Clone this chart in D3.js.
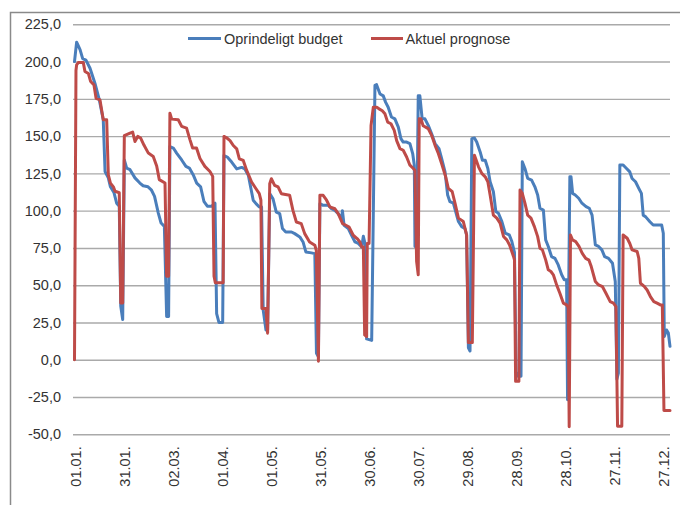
<!DOCTYPE html>
<html>
<head>
<meta charset="utf-8">
<script src="https://cdn.jsdelivr.net/npm/d3@7"></script>
<style>
  html, body { margin: 0; padding: 0; background: #fff; }
  svg { display: block; }
  text { font-family: "Liberation Sans", Arial, sans-serif; fill: #333; }
</style>
</head>
<body>
<svg id="chart" width="680" height="505"></svg>
<script>
// ---- Data ----
const seriesNames = ["Oprindeligt budget", "Aktuel prognose"];
const seriesColors = ["#4a7ebb", "#be4b48"];
const xTickDays = [0, 30, 60, 90, 120, 150, 180, 210, 240, 270, 300, 330, 360];
const xTickLabels = ["01.01.", "31.01.", "02.03.", "01.04.", "01.05.", "31.05.", "30.06.", "30.07.", "29.08.", "28.09.", "28.10.", "27.11.", "27.12."];
const yTickValues = [-50, -25, 0, 25, 50, 75, 100, 125, 150, 175, 200, 225];

// [day of year, value]
const budgetPoints = [
  [0,200],[1.3,213],[3.4,208],[5,202],[7,201],[9.5,195.5],[12.5,185.5],[15.2,174.3],[17.6,161],[18.7,126.3],
  [20.7,122],[22,116],[24.2,112],[25.8,105],[27.4,103],[28.3,36],[29.5,27],[30.5,134],[31.9,128.6],[34,127.5],
  [37,122],[40,118.5],[42,116.7],[45,116],[47,114],[49,109.6],[51.3,98.4],[53,91.7],[55,89.5],[56.4,29],
  [57.6,29],[58.4,143],[60.5,142],[62.5,138.6],[65.6,134],[68.2,129.7],[70.3,128.6],[72.7,124],[74.8,118.5],[77.2,116],
  [79.2,106.3],[81.3,103],[84,103],[86,105],[87,31],[88.4,25],[90.7,25],[91.5,137],[93.5,136],[96.2,132.6],
  [99.3,128],[102.3,129],[104.3,128],[106.4,123.7],[107.8,115.9],[109.4,107],[111.1,104.7],[113.1,102.5],[114.5,102.5],[115.5,33.3],
  [117.2,20],[118.2,20],[119.5,111.4],[121.5,108],[123.5,99],[125.6,98],[127.3,88],[129.3,85.7],[132.8,85.7],[134.8,84.6],
  [137.9,82.4],[139.9,79],[141.6,72.3],[145,71.7],[147.1,71.2],[148.1,4.3],[149.3,2],[150.2,104.7],[152.2,103.6],[155.3,103.6],
  [157.3,101.3],[159.4,100.2],[161.4,98],[163.5,94.6],[164,100],[165,90.2],[167.6,88],[169.6,83.5],[171.7,79],[173.7,78],
  [175.8,75.7],[176.8,82.8],[178,77],[178.8,14],[181.9,13],[183.9,184],[184.9,184.5],[187,178.3],[189,177],[190.4,172.8],
  [192,169.4],[194,162.8],[196.1,161.6],[198.2,156],[199.8,148.3],[201.2,146],[203.3,146],[205.3,145],[207,138.3],[208,130.5],
  [208.4,76],[209.4,76],[210.4,177],[211.4,177],[212.8,161.6],[214.5,161.6],[216.6,157],[218.6,151.6],[220.7,145],[223.1,141.6],
  [224.7,135],[226.8,126],[228.4,110.5],[229.8,106],[231.9,105],[233.9,97],[235,92.7],[237,89.3],[239,88],[240,83.8],
  [241.1,8],[242.1,5.9],[243.2,148.3],[244.8,148.7],[246.2,146],[248.3,139.4],[249.7,133.8],[251.4,133.8],[253,128.3],[254.4,119.4],
  [256.4,112.7],[257.9,99.4],[259.5,98.3],[261.6,92.7],[263.6,85],[266.1,83.8],[267.7,79.3],[269.3,72],[270.3,-8],[271.5,-11],
  [273.3,-11],[274.1,132.8],[275.7,128.3],[277.4,121.6],[279.8,120.5],[281.8,116],[283.5,110.5],[284.9,101.6],[287,100.4],[288.4,80.4],
  [290,76],[292,69.2],[294.1,68],[296.1,63.6],[298.2,57],[299.8,53.6],[301.2,53.6],[301.8,-26.8],[303.2,122.8],[303.9,122.8],
  [304.9,111.6],[306.5,110.5],[308.6,108.3],[310.6,105],[313.1,102.7],[315.1,101.6],[316.8,97],[318.8,77],[320.8,76],[322.8,73.7],
  [324.5,69.2],[326.9,68],[329.3,64.7],[331,52.5],[332,-13],[332.9,-9],[333.8,130.6],[335.8,130.6],[337.9,128.3],[339.9,126],
  [341.3,121.6],[343.4,119.4],[345.4,115],[347,111.6],[348.1,97],[349.5,96],[352.2,92.6],[354.2,90.4],[359.4,90.4],[360.4,84.8],
  [361,15.6],[362.4,20],[363.5,17.9],[364.5,9]
];

const prognosePoints = [
  [0,0],[0.9,194],[1.3,197.8],[2.3,199.3],[5.4,199.3],[6.4,193.3],[8.5,192],[9.9,186.6],[11.9,184.4],[13.2,175.4],
  [15.6,174.3],[17.6,161],[19.7,161],[20.7,124],[22,118.5],[23.8,116],[24.8,113],[27.4,112],[28.3,38],[29.5,38],
  [30.5,150.3],[34,152],[35.6,152.7],[37,146.4],[38.7,149.8],[40.5,148.7],[42.5,144],[45.2,138.6],[48.2,136.4],[50.3,130],
  [51.9,120.8],[55.4,118.5],[56.4,56],[57.6,56],[58.4,165.4],[59.5,161.4],[63.5,161],[65.6,156.5],[68.6,155.4],[70.7,147.5],
  [72.3,142],[74.7,142],[76.8,135],[79.8,129.7],[82.9,126.3],[84.6,123],[85.4,56],[86.2,51.6],[91,51.6],[91.5,149.8],
  [93.1,148.9],[95.2,147],[97.2,143.7],[99.3,141.5],[100.9,134.8],[103.3,133.7],[105.4,127],[108.4,119.2],[111.1,114.7],[113.1,111.4],
  [114.1,107],[114.7,34.4],[117.2,34.4],[118.2,17.8],[119.5,118],[120.5,121.4],[122.5,117],[124.6,115.9],[126.6,111.4],[131.7,110.3],
  [133.7,100.2],[135.8,92.4],[138.8,91.3],[140.9,84.6],[143.9,79],[147.1,76.8],[148,73.4],[149.3,-1],[150.2,110.3],[152.2,110.3],
  [154.3,107],[156.3,102.5],[159.4,101.3],[161.4,98],[164.1,91.3],[166.1,90.2],[168.1,89],[170.6,83.5],[173,81.3],[174.7,79],
  [175.8,75.7],[176.8,75.7],[177.6,16.7],[178.8,15.6],[179.2,78],[180.3,78],[181.5,157],[182.9,169.4],[185,169.4],[186.4,168.3],
  [188.4,167],[190,165],[191.7,159.4],[193.7,158.3],[195.7,153.9],[197.2,147],[199.2,141.6],[201.2,140.5],[203.3,136],[205.3,130.5],
  [207.4,128.3],[208.4,127],[209.4,66],[210.4,57],[211,161.6],[212,161.6],[213.4,157],[216.5,155],[218.6,150.5],[220.7,143.8],
  [222.7,138.3],[224.7,131.6],[227.2,122.7],[228.8,115],[231.2,112.7],[232.9,105],[235,95],[238,92.7],[240,83.8],[241.1,11.5],
  [243.5,11.5],[244.8,137.2],[247.3,129.4],[249.3,125],[251.4,122.7],[253,119.4],[254.4,110.5],[256.4,97],[258.5,95],[260.5,91.6],
  [262.6,82.7],[264.6,80.4],[266.3,77],[268.7,69.3],[269.3,67],[270,-14.5],[272,-14.5],[272.7,113.8],[274.1,111.6],[275.7,105],
  [277.4,97],[279.4,95],[281.5,89.3],[283.5,82.6],[284.9,74.8],[286.4,73.7],[288.4,67],[290,60.3],[291.6,59.2],[293.1,57],
  [295.1,50.2],[297.1,44.6],[299.2,38],[301.2,36.8],[302.2,35],[302.8,-45],[303.6,83.7],[304.8,80.4],[306.8,79.2],[308.8,76],
  [310.8,71.4],[312.9,68],[314.9,66.8],[316.3,62.5],[318.8,52.5],[320.8,50.2],[323.2,49],[325.3,44.6],[327.9,39],[329.9,38],
  [331.4,35.7],[332.4,-44.6],[335,-44.6],[335.8,83.7],[338.3,81.5],[339.9,78],[341.3,73.7],[344.4,72.6],[345.4,68],[346.4,51.3],
  [348.9,49],[350.5,46.8],[352.5,42.4],[354.6,39],[356.6,38],[358.6,36.8],[359.8,36.8],[360.8,-34],[364.5,-34]
];

// ---- Layout ----
const svg = d3.select("#chart");
const W = 680, H = 505;
const plot = { left: 73, right: 670, top: 24.3, bottom: 434.3 };

const x = d3.scaleLinear().domain([0, 364.5]).range([74.5, 670]);
const y = d3.scaleLinear().domain([-50, 225]).range([plot.bottom, plot.top]);

const loc = d3.formatLocale({ decimal: ",", thousands: ".", grouping: [3], currency: ["", ""], minus: "-" });
const fmt = loc.format(".1f");

// Outer frame (top and left visible)
svg.append("path")
  .attr("d", `M10.5,${H} L10.5,12.5 L${W},12.5`)
  .attr("fill", "none")
  .attr("stroke", "#8a8a8a")
  .attr("stroke-width", 1.5);

// Gridlines + Y labels via axis
const yAxis = d3.axisLeft(y)
  .tickValues(yTickValues)
  .tickSize(-(plot.right - plot.left))
  .tickPadding(12)
  .tickFormat(fmt);

const gy = svg.append("g")
  .attr("transform", `translate(${plot.left},0)`)
  .call(yAxis);
gy.select(".domain").remove();
gy.selectAll(".tick line").attr("stroke", "#aaaaaa").attr("stroke-width", 1.4);
gy.selectAll(".tick text")
  .attr("font-size", "14.5px")
  .attr("fill", "#333")
  .attr("x", -12);

// X labels (rotated)
const xAxis = d3.axisBottom(x)
  .tickValues(xTickDays)
  .tickSize(0)
  .tickFormat((d, i) => xTickLabels[i]);
const gx = svg.append("g")
  .attr("transform", `translate(0,${plot.bottom})`)
  .call(xAxis);
gx.select(".domain").remove();
gx.selectAll(".tick text")
  .attr("font-size", "14.5px")
  .attr("fill", "#333")
  .attr("text-anchor", "end")
  .attr("transform", "translate(1,12) rotate(-90)")
  .attr("x", 0)
  .attr("y", 0)
  .attr("dy", "0.35em");

// Lines
const line = d3.line().x(d => x(d[0])).y(d => y(d[1]));
[budgetPoints, prognosePoints].forEach((pts, i) => {
  svg.append("path")
    .datum(pts)
    .attr("d", line)
    .attr("fill", "none")
    .attr("stroke", seriesColors[i])
    .attr("stroke-width", 3)
    .attr("stroke-linejoin", "round")
    .attr("stroke-linecap", "round");
});

// Legend
const legendItems = [
  { x1: 188, x2: 221, tx: 224 },
  { x1: 371, x2: 403, tx: 405.5 }
];
const lg = svg.append("g");
legendItems.forEach((it, i) => {
  lg.append("line")
    .attr("x1", it.x1).attr("x2", it.x2)
    .attr("y1", 38.5).attr("y2", 38.5)
    .attr("stroke", seriesColors[i])
    .attr("stroke-width", 3);
  lg.append("text")
    .attr("x", it.tx).attr("y", 38.5)
    .attr("dy", "0.35em")
    .attr("font-size", "14.5px")
    .text(seriesNames[i]);
});
</script>
</body>
</html>
